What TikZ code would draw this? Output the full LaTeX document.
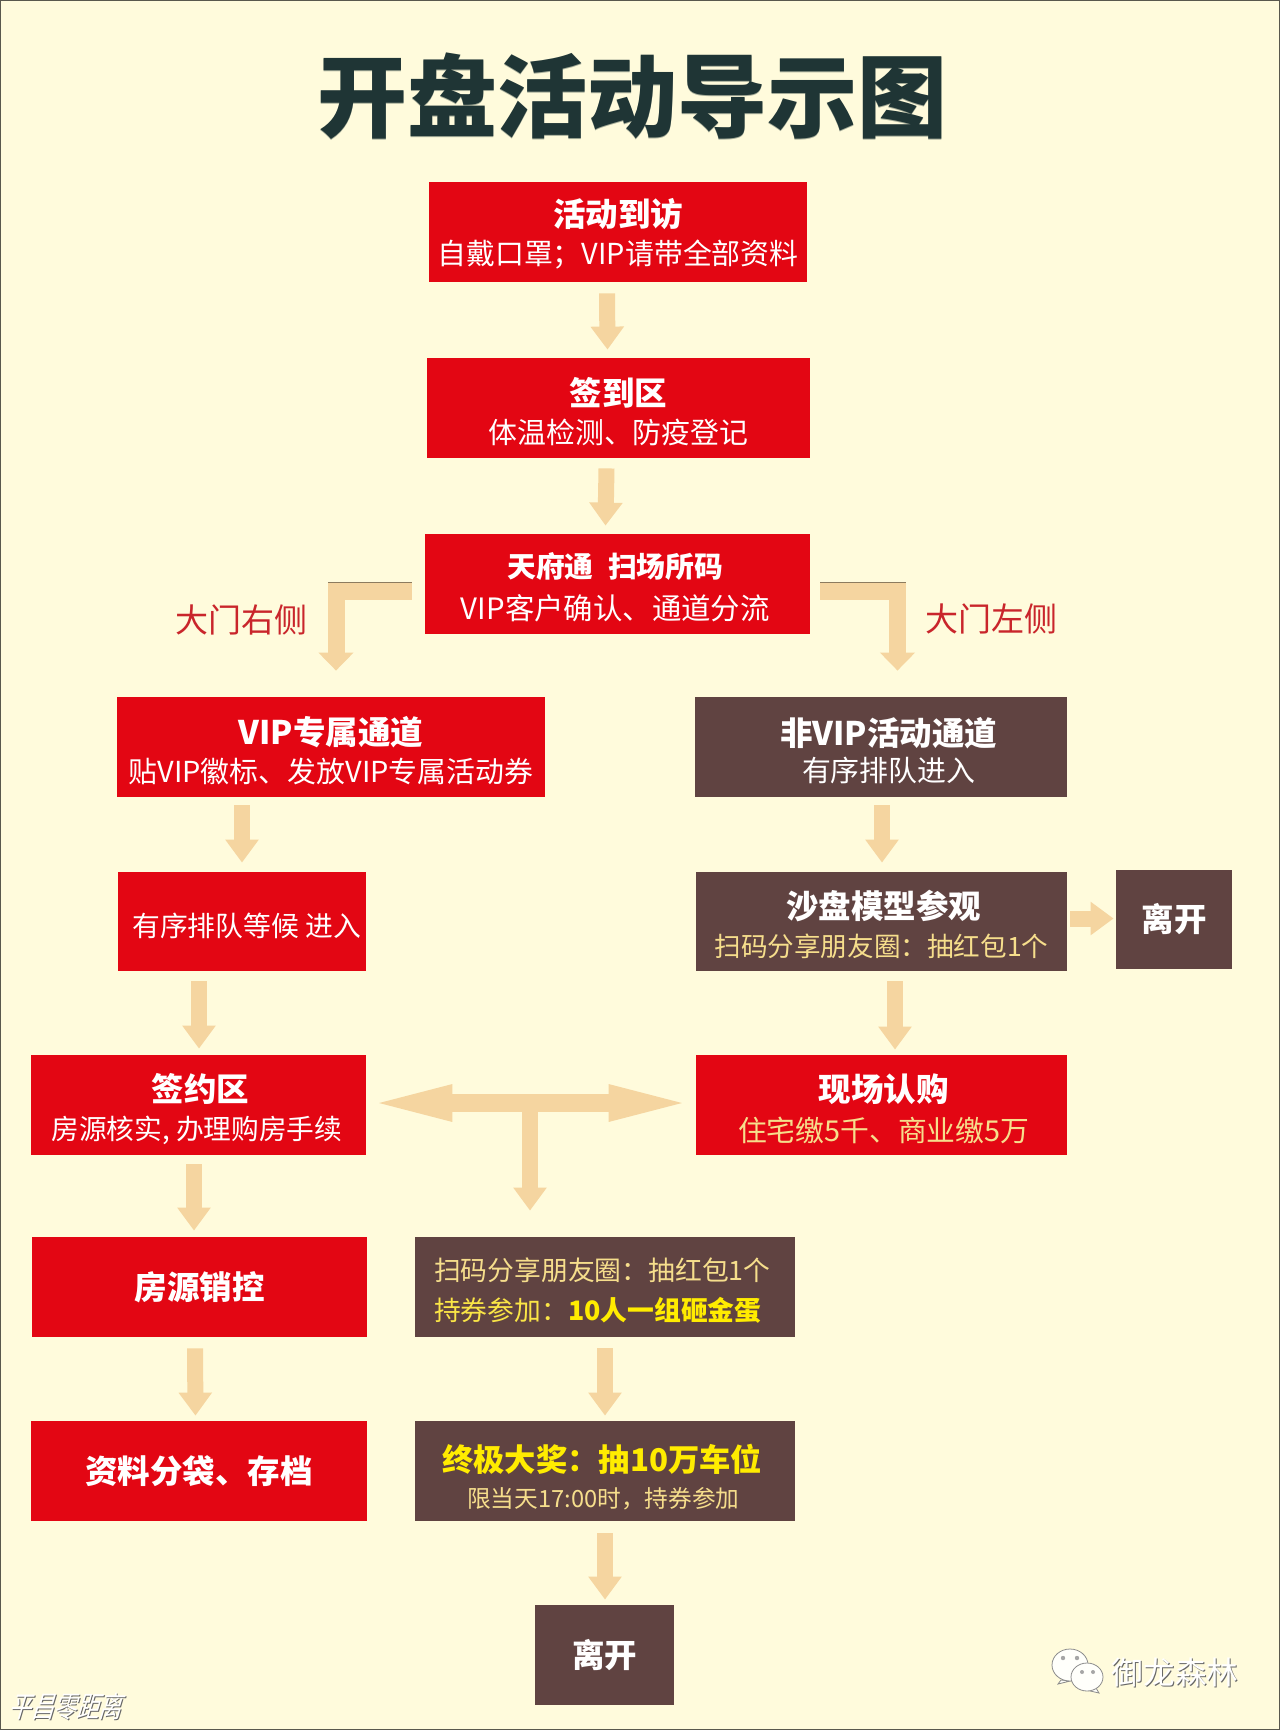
\documentclass[tikz,border=0pt]{standalone}
\usepackage{fontspec}
\setmainfont{Noto Sans CJK SC}
\newfontfamily\markfont{Noto Sans CJK SC}[FakeSlant=0.3,FakeStretch=0.78]
\usetikzlibrary{arrows.meta}

\definecolor{paper}{HTML}{FFFBDC}
\definecolor{boxred}{HTML}{E30613}
\definecolor{boxbrown}{HTML}{604341}
\definecolor{tan}{HTML}{F5D5A0}
\definecolor{tanedge}{HTML}{8C7B5E}
\definecolor{titleink}{HTML}{1F3535}
\definecolor{sidered}{HTML}{C9252B}
\definecolor{paleyellow}{HTML}{F6DE8C}
\definecolor{brightyellow}{HTML}{FFEC00}

\newcommand{\headline}[1]{{\fontsize{16.25}{19}\selectfont\bfseries #1}}
% same, with room above so that both lines sit a little lower
\newcommand{\headtop}[1]{\rule{0pt}{17.5pt}\headline{#1}}

\tikzset{
  stepred/.style={fill=boxred, text=white, align=center, inner sep=0pt,
    font=\fontsize{14.45}{19}\selectfont},
  stepbrown/.style={stepred, fill=boxbrown},
  flow/.style={draw=tan, line width=8pt, -{Triangle[length=11.5pt,width=16pt]}},
  flowbent/.style={flow, line width=8.5pt, line join=miter, -{Triangle[length=9pt,width=17pt]}},
  flowboth/.style={draw=tan, line width=9pt,
    {Triangle[length=45.5pt,width=15.5pt]}-{Triangle[length=45.5pt,width=15.5pt]}},
  flowedge/.style={draw=tanedge, line width=0.5pt},
  sidelabel/.style={text=sidered, font=\fontsize{16.5}{20}\selectfont},
}

\begin{document}
\begin{tikzpicture}[x=0.5pt,y=-0.5pt]
    \useasboundingbox (0,0) rectangle (1280,1730);
    \fill[paper] (0,0) rectangle (1280,1730);
    \draw[black!65!paper, line width=1pt] (0,0) rectangle (1280,1730);

    \node[text=titleink!40!paper, font=\fontsize{45}{50}\selectfont\bfseries] (titleshade) at (632.5,97) {开盘活动导示图};
    \node[text=titleink, font=\fontsize{45}{50}\selectfont\bfseries] (title) at (632,96) {开盘活动导示图};

    \node[stepred, minimum width=189pt, minimum height=50pt] (visit) at (618,232) {\rule{0pt}{15.5pt}\headline{活动到访}\\自戴口罩；VIP请带全部资料};
    \node[stepred, minimum width=191.5pt, minimum height=50pt] (signin) at (618.5,408) {\headtop{签到区}\\体温检测、防疫登记};
    \node[stepred, minimum width=192.5pt, minimum height=50pt] (scan) at (617.5,584) {\rule{0pt}{15.5pt}{\fontsize{14.4}{19}\selectfont\bfseries 天府通\hspace{0.5em}扫场所码}\hspace*{2.2pt}\\[2.2pt]{\fontsize{14.7}{19}\selectfont VIP客户确认、通道分流}\hspace*{2.2pt}};
    \node[sidelabel] (rightside) at (241,620) {大门右侧};
    \node[sidelabel] (leftside) at (991,619) {大门左侧};

    \node[stepred, minimum width=214pt, minimum height=50pt] (vip) at (331,747) {\headtop{VIP专属通道}\\贴VIP徽标、发放VIP专属活动券};
    \node[stepbrown, minimum width=186pt, minimum height=50pt] (nonvip) at (881,747) {\hspace*{7.7pt}\headtop{非VIP活动通道}\\[-1pt]\hspace*{7.7pt}有序排队进入};
    \node[stepred, minimum width=124pt, minimum height=49.5pt, font=\fontsize{13.9}{19}\selectfont] (queue) at (242,921.5) {\rule{0pt}{16.5pt}\hspace*{4.7pt}有序排队等候 进入};
    \node[stepbrown, minimum width=185.5pt, minimum height=49.5pt] (model) at (881.5,921.5) {\hspace*{2.2pt}\headtop{沙盘模型参观}\\{\fontsize{13.3}{19}\selectfont\textcolor{paleyellow}{扫码分享朋友圈：抽红包1个}}};
    \node[stepbrown, minimum width=58pt, minimum height=49.5pt] (leaveright) at (1174,919.5) {\headline{离开}};

    \node[stepred, minimum width=167.5pt, minimum height=50pt] (deal) at (198.5,1105) {\hspace*{2.2pt}\rule{0pt}{18.5pt}\headline{签约区}\\{\fontsize{13.85}{19}\selectfont 房源核实, 办理购房手续}\hspace*{1.6pt}};
    \node[stepred, minimum width=185.5pt, minimum height=50pt] (buy) at (881.5,1105) {\hspace*{2.2pt}\headtop{现场认购}\\[1pt]\hspace*{2.2pt}{\fontsize{14.4}{19}\selectfont\textcolor{paleyellow}{住宅缴5千、商业缴5万}}};
    \node[stepred, minimum width=167.5pt, minimum height=50pt] (sales) at (199.5,1287) {\headline{房源销控}};
    \node[stepbrown, minimum width=190pt, minimum height=50pt, align=left, font=\fontsize{13.4}{19}\selectfont] (share) at (605,1287) {\rule{0pt}{14.6pt}\textcolor{paleyellow}{扫码分享朋友圈：抽红包1个}\hspace*{2.7pt}\\[1pt]\textcolor{paleyellow!50!brightyellow}{持券参加：}\textcolor{brightyellow}{\bfseries 10人一组砸金蛋}};
    \node[stepred, minimum width=168pt, minimum height=50pt] (archive) at (199,1471) {\headline{资料分袋、存档}};
    \node[stepbrown, minimum width=190pt, minimum height=50pt] (prize) at (605,1471) {\rule{0pt}{19.3pt}{\fontsize{15.65}{19}\selectfont\bfseries\textcolor{brightyellow}{终极大奖：抽10万车位}}\hspace*{2.7pt}\\[-1pt]{\fontsize{11.85}{18}\selectfont\textcolor{paleyellow}{限当天17:00时，持券参加}}\hspace*{1.6pt}};
    \node[stepbrown, minimum width=69.5pt, minimum height=50pt] (leavebottom) at (604.5,1655) {\headline{离开}};

    % connectors
    \draw[flow] ([shift={(-11,11)}]visit.south) -- ([shift={(-11,-8)}]signin.north);
    \draw[flow] ([shift={(-12,10)}]signin.south) -- ([shift={(-12,-8)}]scan.north);
    \draw[flowbent] ([shift={(-13,7)}]scan.west) -| ([shift={(5,-26)}]vip.north);
    \draw[flowbent] ([shift={(10,7)}]scan.east) -| ([shift={(16.5,-26)}]nonvip.north);
    \draw[flowedge] ([shift={(-13,-2)}]scan.west) -- ([shift={(-97,-2)}]scan.west);
    \draw[flowedge] ([shift={(10,-2)}]scan.east) -- ([shift={(96,-2)}]scan.east);
    \draw[flow] ([shift={(-89,8)}]vip.south) -- ([shift={(0,-9)}]queue.north);
    \draw[flow] ([shift={(1,8)}]nonvip.south) -- ([shift={(0.5,-9)}]model.north);
    \draw[flow] ([shift={(-43,10)}]queue.south) -- ([shift={(0.5,-6)}]deal.north);
    \draw[flow] ([shift={(13.5,10)}]model.south) -- ([shift={(13.5,-5)}]buy.north);
    \draw[flow] ([shift={(3,-3)}]model.east) -- ([shift={(-2,-1)}]leaveright.west);
    \draw[flow] ([shift={(-4.5,9)}]deal.south) -- ([shift={(-5.5,-6)}]sales.north);
    \draw[flow] ([shift={(-4.5,11)}]sales.south) -- ([shift={(-3.5,-5)}]archive.north);
    \draw[flow] ([shift={(0,11)}]share.south) -- ([shift={(0,-5)}]prize.north);
    \draw[flow] ([shift={(0,12)}]prize.south) -- ([shift={(0.5,-5)}]leavebottom.north);
    \draw[flowboth] ([shift={(-5,-2)}]deal.east) -- ([shift={(4,-2)}]buy.west);
    \coordinate (tee) at (530,1103);
    \draw[flow] (tee) -- ([shift={(-75,-26)}]share.north);

    % marks in the bottom corners
    \node[text=black!60, font=\markfont\fontsize{14.5}{16}\selectfont] (markshade) at (66,1707.5) {平昌零距离};
    \node[text=white, font=\markfont\fontsize{14.5}{16}\selectfont] (mark) at (65,1706.5) {平昌零距离};
    \node[text=black!60, font=\fontsize{15.8}{18}\selectfont] (brandshade) at (1176,1673) {御龙森林};
    \node[text=white, font=\fontsize{15.8}{18}\selectfont] (brand) at (1175,1672) {御龙森林};

    \begin{scope}[fill=white!90!paper, draw=black!45, line width=0.4pt]
      \filldraw (1061,1680) -- (1058,1684) -- (1070,1681) -- cycle;
      \filldraw (1070,1665) ellipse [x radius=18, y radius=16];
      \filldraw (1096,1688) -- (1099,1693) -- (1086,1690) -- cycle;
      \filldraw (1087,1677) ellipse [x radius=16, y radius=14];
      \fill[black!35] (1063,1658) circle (2.2) (1077,1658) circle (2.2)
      (1082,1672) circle (2) (1093,1672) circle (2);
    \end{scope}
  \end{tikzpicture}
\end{document}
